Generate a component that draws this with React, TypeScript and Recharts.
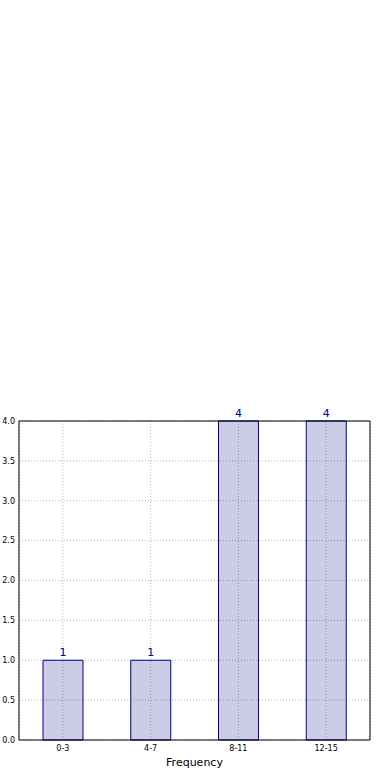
import React from "react";
import { ComposedChart, Bar, Line, XAxis, YAxis, CartesianGrid, LabelList } from "recharts";

const categories = ["0-3", "4-7", "8-11", "12-15"];
const counts = [1, 1, 4, 4];
const yTicks = [0, 0.5, 1, 1.5, 2, 2.5, 3, 3.5, 4];

const data = categories.map((name, i) => ({ name, count: counts[i] }));

const FONT = "DejaVu Sans, sans-serif";

export default function App() {
  return (
    <div style={{ position: "absolute", left: 0, top: 0, width: 390, height: 780, background: "#fff" }}>
      <ComposedChart
        width={390}
        height={780}
        data={data}
        margin={{ top: 420, right: 19, left: 0, bottom: 0 }}
        barCategoryGap={0}
      >
        <CartesianGrid stroke="#b8b8b8" strokeDasharray="1 2" />
        <XAxis
          dataKey="name"
          height={40}
          tickSize={0}
          tickMargin={5}
          axisLine={{ stroke: "#000" }}
          tick={{ fontSize: 8, fill: "#000", fontFamily: FONT }}
          label={{ value: "Frequency", position: "insideBottom", offset: 14, fontSize: 11, fill: "#000", fontFamily: FONT }}
        />
        <XAxis xAxisId="top" dataKey="name" orientation="top" height={1} tick={false} tickLine={false} axisLine={{ stroke: "#000" }} />
        <YAxis
          width={19}
          domain={[0, 4]}
          ticks={yTicks}
          tickSize={0}
          tickMargin={4}
          interval={0}
          tickFormatter={(v: number) => v.toFixed(1)}
          axisLine={{ stroke: "#000" }}
          tick={{ fontSize: 8, fill: "#000", fontFamily: FONT }}
        />
        <YAxis yAxisId="right" orientation="right" width={1} domain={[0, 4]} tick={false} tickLine={false} axisLine={{ stroke: "#000" }} />
        <Bar dataKey="count" barSize={40} fill="#000080" fillOpacity={0.2} stroke="#000080" strokeWidth={1} isAnimationActive={false}>
          <LabelList dataKey="count" position="top" fill="#000080" fontSize={11} fontFamily={FONT} offset={4} />
        </Bar>
        <Line dataKey="count" xAxisId="top" yAxisId="right" stroke="none" dot={false} activeDot={false} isAnimationActive={false} legendType="none" />
      </ComposedChart>
    </div>
  );
}
